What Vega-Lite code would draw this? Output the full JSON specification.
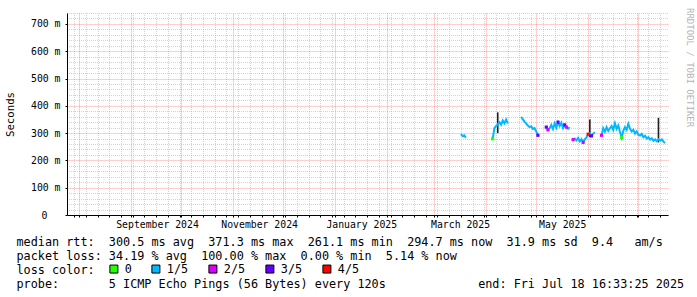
{
  "$schema": "https://vega.github.io/schema/vega-lite/v6.json",
  "width": 601,
  "height": 202,
  "autosize": {"type": "none"},
  "padding": {"left": 67, "top": 13, "right": 29, "bottom": 82},
  "background": "white",
  "config": {"view": {"stroke": null}, "font": "DejaVu Sans Mono"},
  "title": {"text": "RRDTOOL / TOBI OETIKER", "orient": "right", "anchor": "start", "font": "DejaVu Sans Mono", "fontSize": 9, "fontWeight": "normal", "color": "#b4b4b4", "offset": 1},
  "data": {"values": [
    {"date": "2025-03-17", "median": 0.296, "loss": "1/5", "seg": 1, "lo": null, "hi": null},
    {"date": "2025-03-18", "median": 0.289, "loss": "1/5", "seg": 1, "lo": null, "hi": null},
    {"date": "2025-03-19", "median": 0.292, "loss": "1/5", "seg": 1, "lo": null, "hi": null},
    {"date": "2025-03-20", "median": 0.283, "loss": "1/5", "seg": 1, "lo": null, "hi": null},
    {"date": "2025-04-04", "median": 0.280, "loss": "1/5", "seg": 2, "lo": null, "hi": null},
    {"date": "2025-04-05", "median": 0.279, "loss": "0", "seg": 2, "lo": null, "hi": null},
    {"date": "2025-04-06", "median": 0.318, "loss": "1/5", "seg": 2, "lo": null, "hi": null},
    {"date": "2025-04-07", "median": 0.326, "loss": "1/5", "seg": 2, "lo": null, "hi": null},
    {"date": "2025-04-08", "median": 0.332, "loss": "1/5", "seg": 2, "lo": 0.300, "hi": 0.376},
    {"date": "2025-04-09", "median": 0.340, "loss": "1/5", "seg": 2, "lo": null, "hi": null},
    {"date": "2025-04-10", "median": 0.331, "loss": "1/5", "seg": 2, "lo": null, "hi": null},
    {"date": "2025-04-11", "median": 0.346, "loss": "1/5", "seg": 2, "lo": null, "hi": null},
    {"date": "2025-04-12", "median": 0.336, "loss": "1/5", "seg": 2, "lo": null, "hi": null},
    {"date": "2025-04-13", "median": 0.350, "loss": "1/5", "seg": 2, "lo": null, "hi": null},
    {"date": "2025-04-14", "median": 0.335, "loss": "1/5", "seg": 2, "lo": null, "hi": null},
    {"date": "2025-04-22", "median": 0.360, "loss": "1/5", "seg": 3, "lo": null, "hi": null},
    {"date": "2025-04-23", "median": 0.350, "loss": "1/5", "seg": 3, "lo": null, "hi": null},
    {"date": "2025-04-24", "median": 0.342, "loss": "1/5", "seg": 3, "lo": null, "hi": null},
    {"date": "2025-04-25", "median": 0.335, "loss": "1/5", "seg": 3, "lo": null, "hi": null},
    {"date": "2025-04-26", "median": 0.328, "loss": "1/5", "seg": 3, "lo": null, "hi": null},
    {"date": "2025-04-27", "median": 0.322, "loss": "1/5", "seg": 3, "lo": null, "hi": null},
    {"date": "2025-04-28", "median": 0.325, "loss": "1/5", "seg": 3, "lo": null, "hi": null},
    {"date": "2025-04-29", "median": 0.315, "loss": "1/5", "seg": 3, "lo": null, "hi": null},
    {"date": "2025-04-30", "median": 0.318, "loss": "1/5", "seg": 3, "lo": null, "hi": null},
    {"date": "2025-05-01", "median": 0.306, "loss": "1/5", "seg": 3, "lo": null, "hi": null},
    {"date": "2025-05-02", "median": 0.292, "loss": "3/5", "seg": 3, "lo": null, "hi": null},
    {"date": "2025-05-07", "median": 0.322, "loss": "3/5", "seg": 4, "lo": null, "hi": null},
    {"date": "2025-05-08", "median": 0.312, "loss": "2/5", "seg": 4, "lo": null, "hi": null},
    {"date": "2025-05-09", "median": 0.318, "loss": "1/5", "seg": 4, "lo": null, "hi": null},
    {"date": "2025-05-10", "median": 0.330, "loss": "1/5", "seg": 4, "lo": null, "hi": null},
    {"date": "2025-05-11", "median": 0.315, "loss": "1/5", "seg": 4, "lo": null, "hi": null},
    {"date": "2025-05-12", "median": 0.336, "loss": "1/5", "seg": 4, "lo": null, "hi": null},
    {"date": "2025-05-13", "median": 0.320, "loss": "1/5", "seg": 4, "lo": null, "hi": null},
    {"date": "2025-05-14", "median": 0.340, "loss": "3/5", "seg": 4, "lo": null, "hi": null},
    {"date": "2025-05-15", "median": 0.326, "loss": "1/5", "seg": 4, "lo": null, "hi": null},
    {"date": "2025-05-16", "median": 0.338, "loss": "1/5", "seg": 4, "lo": null, "hi": null},
    {"date": "2025-05-17", "median": 0.318, "loss": "1/5", "seg": 4, "lo": null, "hi": null},
    {"date": "2025-05-18", "median": 0.330, "loss": "3/5", "seg": 4, "lo": null, "hi": null},
    {"date": "2025-05-19", "median": 0.322, "loss": "2/5", "seg": 4, "lo": null, "hi": null},
    {"date": "2025-05-20", "median": 0.316, "loss": "1/5", "seg": 4, "lo": null, "hi": null},
    {"date": "2025-05-21", "median": 0.322, "loss": "1/5", "seg": 4, "lo": null, "hi": null},
    {"date": "2025-05-23", "median": 0.276, "loss": "2/5", "seg": 5, "lo": null, "hi": null},
    {"date": "2025-05-24", "median": 0.280, "loss": "1/5", "seg": 5, "lo": null, "hi": null},
    {"date": "2025-05-25", "median": 0.273, "loss": "1/5", "seg": 5, "lo": null, "hi": null},
    {"date": "2025-05-26", "median": 0.282, "loss": "1/5", "seg": 5, "lo": null, "hi": null},
    {"date": "2025-05-27", "median": 0.270, "loss": "1/5", "seg": 5, "lo": null, "hi": null},
    {"date": "2025-05-28", "median": 0.278, "loss": "1/5", "seg": 5, "lo": null, "hi": null},
    {"date": "2025-05-29", "median": 0.266, "loss": "2/5", "seg": 5, "lo": null, "hi": null},
    {"date": "2025-05-30", "median": 0.277, "loss": "1/5", "seg": 5, "lo": null, "hi": null},
    {"date": "2025-05-31", "median": 0.284, "loss": "1/5", "seg": 5, "lo": null, "hi": null},
    {"date": "2025-06-01", "median": 0.296, "loss": "4/5", "seg": 5, "lo": null, "hi": null},
    {"date": "2025-06-02", "median": 0.300, "loss": "1/5", "seg": 5, "lo": 0.285, "hi": 0.350},
    {"date": "2025-06-03", "median": 0.290, "loss": "3/5", "seg": 5, "lo": null, "hi": null},
    {"date": "2025-06-04", "median": 0.298, "loss": "1/5", "seg": 5, "lo": null, "hi": null},
    {"date": "2025-06-05", "median": 0.303, "loss": "1/5", "seg": 5, "lo": null, "hi": null},
    {"date": "2025-06-09", "median": 0.292, "loss": "2/5", "seg": 6, "lo": null, "hi": null},
    {"date": "2025-06-10", "median": 0.318, "loss": "1/5", "seg": 6, "lo": null, "hi": null},
    {"date": "2025-06-11", "median": 0.305, "loss": "1/5", "seg": 6, "lo": null, "hi": null},
    {"date": "2025-06-12", "median": 0.322, "loss": "1/5", "seg": 6, "lo": null, "hi": null},
    {"date": "2025-06-13", "median": 0.308, "loss": "1/5", "seg": 6, "lo": null, "hi": null},
    {"date": "2025-06-14", "median": 0.318, "loss": "1/5", "seg": 6, "lo": null, "hi": null},
    {"date": "2025-06-15", "median": 0.326, "loss": "1/5", "seg": 6, "lo": null, "hi": null},
    {"date": "2025-06-16", "median": 0.312, "loss": "1/5", "seg": 6, "lo": null, "hi": null},
    {"date": "2025-06-17", "median": 0.336, "loss": "1/5", "seg": 6, "lo": null, "hi": null},
    {"date": "2025-06-18", "median": 0.316, "loss": "1/5", "seg": 6, "lo": null, "hi": null},
    {"date": "2025-06-19", "median": 0.328, "loss": "1/5", "seg": 6, "lo": null, "hi": null},
    {"date": "2025-06-20", "median": 0.305, "loss": "1/5", "seg": 6, "lo": null, "hi": null},
    {"date": "2025-06-21", "median": 0.284, "loss": "0", "seg": 6, "lo": null, "hi": null},
    {"date": "2025-06-22", "median": 0.308, "loss": "1/5", "seg": 6, "lo": null, "hi": null},
    {"date": "2025-06-23", "median": 0.322, "loss": "1/5", "seg": 6, "lo": null, "hi": null},
    {"date": "2025-06-24", "median": 0.312, "loss": "1/5", "seg": 6, "lo": null, "hi": null},
    {"date": "2025-06-25", "median": 0.334, "loss": "1/5", "seg": 6, "lo": null, "hi": null},
    {"date": "2025-06-26", "median": 0.316, "loss": "1/5", "seg": 6, "lo": null, "hi": null},
    {"date": "2025-06-27", "median": 0.306, "loss": "1/5", "seg": 6, "lo": null, "hi": null},
    {"date": "2025-06-28", "median": 0.312, "loss": "1/5", "seg": 6, "lo": null, "hi": null},
    {"date": "2025-06-29", "median": 0.298, "loss": "1/5", "seg": 6, "lo": null, "hi": null},
    {"date": "2025-06-30", "median": 0.306, "loss": "1/5", "seg": 6, "lo": null, "hi": null},
    {"date": "2025-07-01", "median": 0.294, "loss": "1/5", "seg": 6, "lo": null, "hi": null},
    {"date": "2025-07-02", "median": 0.291, "loss": "1/5", "seg": 6, "lo": null, "hi": null},
    {"date": "2025-07-03", "median": 0.297, "loss": "1/5", "seg": 6, "lo": null, "hi": null},
    {"date": "2025-07-04", "median": 0.285, "loss": "1/5", "seg": 6, "lo": null, "hi": null},
    {"date": "2025-07-05", "median": 0.290, "loss": "1/5", "seg": 6, "lo": null, "hi": null},
    {"date": "2025-07-06", "median": 0.280, "loss": "1/5", "seg": 6, "lo": null, "hi": null},
    {"date": "2025-07-07", "median": 0.285, "loss": "1/5", "seg": 6, "lo": null, "hi": null},
    {"date": "2025-07-08", "median": 0.276, "loss": "1/5", "seg": 6, "lo": null, "hi": null},
    {"date": "2025-07-09", "median": 0.281, "loss": "1/5", "seg": 6, "lo": null, "hi": null},
    {"date": "2025-07-10", "median": 0.272, "loss": "1/5", "seg": 6, "lo": null, "hi": null},
    {"date": "2025-07-11", "median": 0.277, "loss": "1/5", "seg": 6, "lo": null, "hi": null},
    {"date": "2025-07-12", "median": 0.270, "loss": "1/5", "seg": 6, "lo": null, "hi": null},
    {"date": "2025-07-13", "median": 0.278, "loss": "1/5", "seg": 6, "lo": 0.266, "hi": 0.356},
    {"date": "2025-07-14", "median": 0.273, "loss": "1/5", "seg": 6, "lo": null, "hi": null},
    {"date": "2025-07-15", "median": 0.277, "loss": "1/5", "seg": 6, "lo": null, "hi": null},
    {"date": "2025-07-16", "median": 0.268, "loss": "1/5", "seg": 6, "lo": null, "hi": null},
    {"date": "2025-07-17", "median": 0.264, "loss": "1/5", "seg": 6, "lo": null, "hi": null}
  ]},
  "encoding": {
    "x": {
      "field": "date", "type": "temporal",
      "scale": {"type": "utc", "domain": [{"year": 2024, "month": 7, "date": 24, "hours": 18, "utc": true}, {"year": 2025, "month": 7, "date": 18, "hours": 16, "minutes": 33, "seconds": 25, "utc": true}]},
      "axis": {
        "values": [
          {"year": 2024, "month": 8, "date": 1, "utc": true}, {"year": 2024, "month": 9, "date": 1, "utc": true}, {"year": 2024, "month": 10, "date": 1, "utc": true}, {"year": 2024, "month": 11, "date": 1, "utc": true}, {"year": 2024, "month": 12, "date": 1, "utc": true}, {"year": 2025, "month": 1, "date": 1, "utc": true}, {"year": 2025, "month": 2, "date": 1, "utc": true}, {"year": 2025, "month": 3, "date": 1, "utc": true}, {"year": 2025, "month": 4, "date": 1, "utc": true}, {"year": 2025, "month": 5, "date": 1, "utc": true}, {"year": 2025, "month": 6, "date": 1, "utc": true}, {"year": 2025, "month": 7, "date": 1, "utc": true},
          {"year": 2024, "month": 9, "date": 16, "hours": 12, "utc": true}, {"year": 2024, "month": 11, "date": 16, "hours": 12, "utc": true}, {"year": 2025, "month": 1, "date": 16, "hours": 12, "utc": true}, {"year": 2025, "month": 3, "date": 16, "hours": 12, "utc": true}, {"year": 2025, "month": 5, "date": 16, "hours": 12, "utc": true},
          {"year": 2024, "month": 7, "date": 29, "utc": true}, {"year": 2024, "month": 7, "date": 36, "utc": true}, {"year": 2024, "month": 7, "date": 43, "utc": true}, {"year": 2024, "month": 7, "date": 50, "utc": true}, {"year": 2024, "month": 7, "date": 57, "utc": true}, {"year": 2024, "month": 7, "date": 64, "utc": true}, {"year": 2024, "month": 7, "date": 71, "utc": true}, {"year": 2024, "month": 7, "date": 78, "utc": true}, {"year": 2024, "month": 7, "date": 85, "utc": true}, {"year": 2024, "month": 7, "date": 92, "utc": true}, {"year": 2024, "month": 7, "date": 99, "utc": true}, {"year": 2024, "month": 7, "date": 106, "utc": true}, {"year": 2024, "month": 7, "date": 113, "utc": true}, {"year": 2024, "month": 7, "date": 120, "utc": true}, {"year": 2024, "month": 7, "date": 127, "utc": true}, {"year": 2024, "month": 7, "date": 134, "utc": true}, {"year": 2024, "month": 7, "date": 141, "utc": true}, {"year": 2024, "month": 7, "date": 148, "utc": true}, {"year": 2024, "month": 7, "date": 155, "utc": true}, {"year": 2024, "month": 7, "date": 162, "utc": true}, {"year": 2024, "month": 7, "date": 169, "utc": true}, {"year": 2024, "month": 7, "date": 176, "utc": true}, {"year": 2024, "month": 7, "date": 183, "utc": true}, {"year": 2024, "month": 7, "date": 190, "utc": true}, {"year": 2024, "month": 7, "date": 197, "utc": true}, {"year": 2024, "month": 7, "date": 204, "utc": true}, {"year": 2024, "month": 7, "date": 211, "utc": true}, {"year": 2024, "month": 7, "date": 218, "utc": true}, {"year": 2024, "month": 7, "date": 225, "utc": true}, {"year": 2024, "month": 7, "date": 232, "utc": true}, {"year": 2024, "month": 7, "date": 239, "utc": true}, {"year": 2024, "month": 7, "date": 246, "utc": true}, {"year": 2024, "month": 7, "date": 253, "utc": true}, {"year": 2024, "month": 7, "date": 260, "utc": true}, {"year": 2024, "month": 7, "date": 267, "utc": true}, {"year": 2024, "month": 7, "date": 274, "utc": true}, {"year": 2024, "month": 7, "date": 281, "utc": true}, {"year": 2024, "month": 7, "date": 288, "utc": true}, {"year": 2024, "month": 7, "date": 295, "utc": true}, {"year": 2024, "month": 7, "date": 302, "utc": true}, {"year": 2024, "month": 7, "date": 309, "utc": true}, {"year": 2024, "month": 7, "date": 316, "utc": true}, {"year": 2024, "month": 7, "date": 323, "utc": true}, {"year": 2024, "month": 7, "date": 330, "utc": true}, {"year": 2024, "month": 7, "date": 337, "utc": true}, {"year": 2024, "month": 7, "date": 344, "utc": true}, {"year": 2024, "month": 7, "date": 351, "utc": true}, {"year": 2024, "month": 7, "date": 358, "utc": true}, {"year": 2024, "month": 7, "date": 365, "utc": true}, {"year": 2024, "month": 7, "date": 372, "utc": true}, {"year": 2024, "month": 7, "date": 379, "utc": true}
        ],
        "labelExpr": "utchours(datum.value) == 12 ? utcFormat(datum.value, '%B %Y') : ''",
        "labelFont": "DejaVu Sans Mono", "labelFontSize": 9.8, "labelColor": "black",
        "labelOverlap": false, "labelFlush": false, "labelPadding": 2, "labelAngle": 0,
        "ticks": true, "tickSize": 2, "tickColor": "black",
        "tickOpacity": {"condition": {"test": "utchours(datum.value) == 12", "value": 0}, "value": 1},
        "grid": true,
        "gridColor": {"condition": {"test": "utcdate(datum.value) == 1 && utchours(datum.value) == 0", "value": "#ff4040"}, "value": "#a8a8a8"},
        "gridOpacity": {"condition": [{"test": "utchours(datum.value) == 12", "value": 0}, {"test": "utcdate(datum.value) == 1 && utchours(datum.value) == 0", "value": 0.5}], "value": 0.5},
        "gridDash": [1, 1],
        "gridDashOffset": {"condition": {"test": "utcdate(datum.value) == 1 && utchours(datum.value) == 0", "value": 0}, "value": 0.5},
        "gridWidth": 1,
        "domainColor": "black", "domainWidth": 1,
        "title": [
          "median rtt:\u00a0\u00a0300.5 ms avg\u00a0\u00a0371.3 ms max\u00a0\u00a0261.1 ms min\u00a0\u00a0294.7 ms now\u00a0\u00a031.9 ms sd\u00a0\u00a09.4\u00a0\u00a0\u00a0am/s",
          "packet loss: 34.19 % avg\u00a0\u00a0100.00 % max\u00a0\u00a00.00 % min\u00a0\u00a05.14 % now",
          "loss color:",
          "probe:\u00a0\u00a0\u00a0\u00a0\u00a0\u00a0\u00a05 ICMP Echo Pings (56 Bytes) every 120s\u00a0\u00a0\u00a0\u00a0\u00a0\u00a0\u00a0\u00a0\u00a0\u00a0\u00a0\u00a0\u00a0end: Fri Jul 18 16:33:25 2025"
        ],
        "titleFont": "DejaVu Sans Mono", "titleFontSize": 11.8, "titleFontWeight": "normal", "titleColor": "black",
        "titleAnchor": "start", "titleAlign": "left", "titleBaseline": "alphabetic",
        "titleX": -51, "titleY": 30, "titleLineHeight": 14
      }
    },
    "y": {
      "field": "median", "type": "quantitative",
      "scale": {"domain": [0, 0.74], "nice": false, "zero": true},
      "axis": {
        "values": [0, 0.02, 0.04, 0.06, 0.08, 0.1, 0.12, 0.14, 0.16, 0.18, 0.2, 0.22, 0.24, 0.26, 0.28, 0.3, 0.32, 0.34, 0.36, 0.38, 0.4, 0.42, 0.44, 0.46, 0.48, 0.5, 0.52, 0.54, 0.56, 0.58, 0.6, 0.62, 0.64, 0.66, 0.68, 0.7, 0.72, 0.74],
        "labelExpr": "datum.value == 0 ? '0' : (round(datum.value * 1000) % 100 == 0 ? format(round(datum.value * 1000), 'd') + ' m' : '')",
        "labelFont": "DejaVu Sans Mono", "labelFontSize": 9.8, "labelColor": "black",
        "labelOverlap": false, "labelFlush": false,
        "labelPadding": {"condition": {"test": "datum.value == 0", "value": 18}, "value": 5},
        "ticks": true, "tickSize": 2, "tickColor": "black",
        "tickOpacity": {"condition": {"test": "round(datum.value * 1000) % 100 != 0", "value": 0}, "value": 1},
        "grid": true,
        "gridColor": {"condition": {"test": "round(datum.value * 1000) % 100 == 0", "value": "#ff4040"}, "value": "#a8a8a8"},
        "gridOpacity": {"condition": {"test": "round(datum.value * 1000) % 100 == 0", "value": 0.5}, "value": 0.5},
        "gridDash": [1, 1],
        "gridDashOffset": {"condition": {"test": "round(datum.value * 1000) % 100 == 0", "value": 0}, "value": 0.5},
        "gridWidth": 1,
        "domainColor": "black", "domainWidth": 1,
        "title": "Seconds", "titleFont": "DejaVu Sans Mono", "titleFontSize": 10.7, "titleFontWeight": "normal", "titleColor": "black",
        "titleX": -57, "titleY": 101, "titleAlign": "center", "titleBaseline": "middle", "titleAngle": 270
      }
    }
  },
  "layer": [
    {
      "transform": [{"filter": "isValid(datum.lo)"}],
      "mark": {"type": "rule", "color": "#1e1e1e", "strokeWidth": 1.6},
      "encoding": {
        "y": {"field": "lo", "type": "quantitative", "scale": {"domain": [0, 0.74], "nice": false, "zero": true}},
        "y2": {"field": "hi"}
      }
    },
    {
      "mark": {"type": "line", "color": "#00b8ff", "strokeWidth": 2},
      "encoding": {"detail": {"field": "seg", "type": "nominal"}}
    },
    {
      "transform": [{"filter": "datum.loss != '1/5'"}],
      "mark": {"type": "square", "size": 10, "opacity": 1},
      "encoding": {
        "color": {
          "field": "loss", "type": "nominal",
          "scale": {"domain": ["0", "1/5", "2/5", "3/5", "4/5"], "range": ["#26ff00", "#00b8ff", "#dd00ff", "#6200ff", "#ff0000"]},
          "legend": {
            "orient": "none", "legendX": 41, "legendY": 250, "direction": "horizontal", "columns": 5,
            "title": null, "padding": 0,
            "symbolType": "square", "symbolSize": 64, "symbolOpacity": 1, "symbolStrokeColor": "black", "symbolStrokeWidth": 1,
            "labelFont": "DejaVu Sans Mono", "labelFontSize": 11.8, "labelColor": "black", "labelOffset": 5, "columnPadding": 17,
            "encode": {"symbols": {"update": {"stroke": {"value": "black"}, "strokeWidth": {"value": 1}, "opacity": {"value": 1}}}}
          }
        }
      }
    },
    {
      "data": {"values": [{}]},
      "mark": {"type": "point", "shape": "triangle-right", "filled": true, "color": "#a01c1c", "size": 28, "opacity": 1},
      "encoding": {
        "x": {"datum": {"year": 2025, "month": 7, "date": 21, "hours": 6, "utc": true}, "type": "temporal"},
        "y": {"datum": 0, "type": "quantitative"}
      }
    },
    {
      "data": {"values": [{}]},
      "mark": {"type": "point", "shape": "triangle-up", "filled": true, "color": "#a01c1c", "size": 28, "opacity": 1},
      "encoding": {
        "x": {"datum": {"year": 2024, "month": 7, "date": 24, "hours": 18, "utc": true}, "type": "temporal"},
        "y": {"datum": 0.752, "type": "quantitative"}
      }
    }
  ]
}
